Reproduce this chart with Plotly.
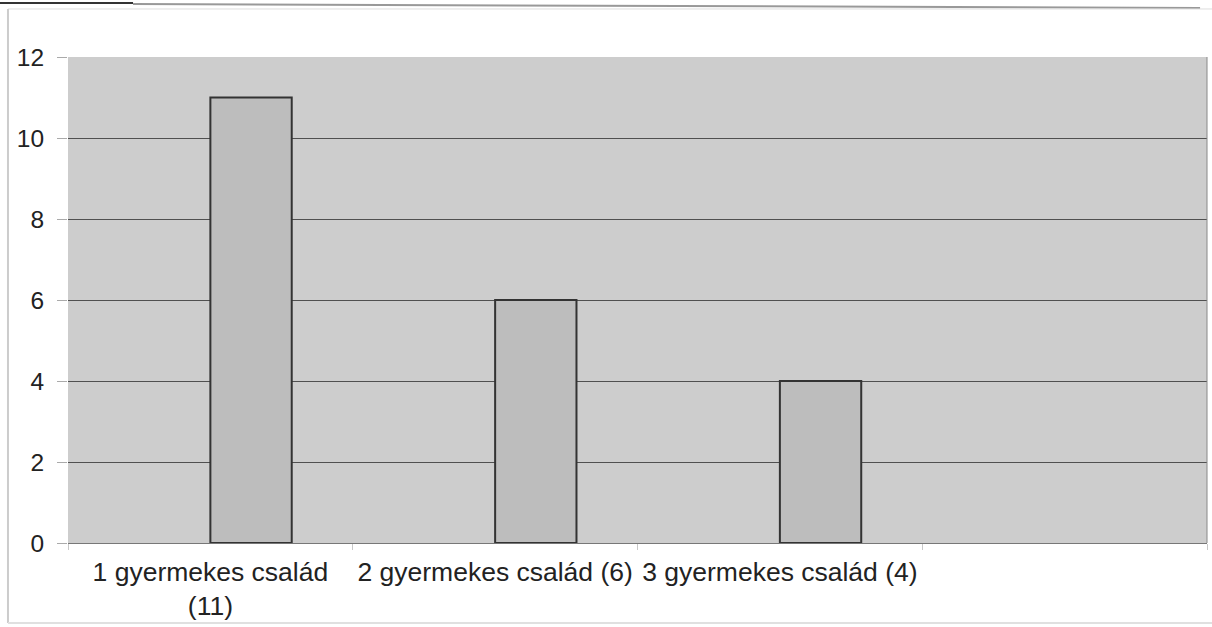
import plotly.graph_objects as go

categories = ["1 gyermekes család<br>(11)", "2 gyermekes család (6)", "3 gyermekes család (4)", " "]
series_a = [0, 0, 0, None]
series_b = [11, 6, 4, None]
y_ticks = [0, 2, 4, 6, 8, 10, 12]

fig = go.Figure()
fig.add_trace(go.Bar(x=categories, y=series_a, marker=dict(color="rgba(0,0,0,0)", line=dict(width=0)),
                     showlegend=False, hoverinfo="skip"))
fig.add_trace(go.Bar(x=categories, y=series_b, marker=dict(color="#bdbdbd", line=dict(color="#333333", width=2)),
                     showlegend=False))

fig.update_layout(
    width=1212, height=627,
    margin=dict(l=68, r=5, t=57, b=84),
    paper_bgcolor="white",
    plot_bgcolor="#cdcdcd",
    barmode="group", bargap=0.4286, bargroupgap=0,
    font=dict(family="Liberation Sans, Arial, sans-serif", size=26, color="#222222"),
    xaxis=dict(type="category", showgrid=False, showline=True, linecolor="#777777", linewidth=1,
               ticks="outside", tickson="boundaries", ticklen=6, tickcolor="#c8c8c8",
               tickfont=dict(size=26.5), tickangle=0, ticklabelstandoff=5, mirror=False),
    yaxis=dict(range=[0, 12], tickvals=y_ticks, showgrid=True, gridcolor="#505050", gridwidth=1,
               ticks="outside", ticklen=10, tickcolor="#aaaaaa", ticklabelstandoff=8,
               showline=False, zeroline=False, tickfont=dict(size=24.5)),
    shapes=[
        dict(type="line", xref="paper", yref="paper", x0=1, x1=1, y0=0, y1=1, line=dict(color="#888888", width=1)),
        dict(type="line", xref="paper", yref="paper", x0=0.0571, x1=0.9939, y0=1.1091, y1=1.1008,
             line=dict(color="#999999", width=2)),
        dict(type="line", xref="paper", yref="paper", x0=-0.0597, x1=0.0571, y0=1.1111, y1=1.1111,
             line=dict(color="#333333", width=2)),
        dict(type="line", xref="paper", yref="paper", x0=-0.0527, x1=1.05, y0=1.0988, y1=1.0988,
             line=dict(color="#dddddd", width=1)),
        dict(type="line", xref="paper", yref="paper", x0=-0.0527, x1=-0.0527, y0=-0.1646, y1=1.0988,
             line=dict(color="#cccccc", width=2)),
        dict(type="line", xref="paper", yref="paper", x0=-0.0527, x1=1.05, y0=-0.1646, y1=-0.1646,
             line=dict(color="#e0e0e0", width=2)),
    ],
)

fig.write_html("out.html", config={"displayModeBar": False},
               post_script="document.body.style.margin='0';")
